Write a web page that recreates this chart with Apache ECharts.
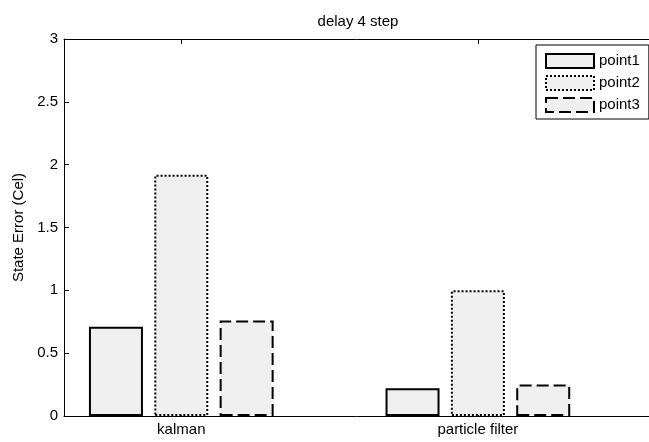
<!DOCTYPE html>
<html><head><meta charset="utf-8">
<script src="https://cdn.jsdelivr.net/npm/echarts@6/dist/echarts.min.js"></script>
<style>html,body{margin:0;padding:0;background:#fff}#c{width:649px;height:442px}</style>
</head><body><div id="c"></div>
<script>
// ---- data ----
const categories = ['kalman', 'particle filter'];
const categoryPositions = [1, 2];
const seriesNames = ['point1', 'point2', 'point3'];
const point1 = [0.71, 0.22];
const point2 = [1.92, 1.0];
const point3 = [0.76, 0.25];
const yTicks = [0, 0.5, 1, 1.5, 2, 2.5, 3];
const titleText = 'delay 4 step';
const yName = 'State Error (Cel)';

const FONT = "'Liberation Sans', Arial, sans-serif";
const FS = 15;
const seriesValues = [point1, point2, point3];
const borderTypes = ['solid', [2, 2], [12, 5]];

const chart = echarts.init(document.getElementById('c'), null, {renderer: 'canvas'});

const xMin = 0.6045, xMax = 2.577;
function xAxisBase(pos, showLabel) {
  return {
    type: 'value', position: pos, min: xMin, max: xMax,
    splitLine: {show: false},
    axisLine: {show: true, onZero: false, lineStyle: {color: '#000', width: 1}},
    axisTick: {show: true, inside: true, length: 5, customValues: categoryPositions, lineStyle: {color: '#000'}},
    axisLabel: {show: showLabel, customValues: categoryPositions, margin: 6,
      color: '#000', fontFamily: FONT, fontSize: FS,
      formatter: v => { const i = categoryPositions.indexOf(v); return i >= 0 ? categories[i] : ''; }}
  };
}

const option = {
  animation: false,
  backgroundColor: '#fff',
  title: {text: titleText, left: 358, top: 14, padding: 0, textAlign: 'center',
    textStyle: {color: '#000', fontFamily: FONT, fontSize: FS, fontWeight: 'normal'}},
  grid: {left: 64, top: 39, bottom: 26, right: 0, outerBoundsMode: 'none'},
  legend: {
    orient: 'vertical', left: 536, top: 45, padding: [8, 9, 6, 9],
    itemWidth: 48, itemHeight: 14, itemGap: 6, icon: 'rect',
    borderColor: '#000', borderWidth: 1, backgroundColor: '#fff',
    textStyle: {color: '#000', fontFamily: FONT, fontSize: FS},
    data: seriesNames.map((n, s) => ({
      name: n,
      itemStyle: {color: '#efefef', borderColor: '#000', borderWidth: 2, borderType: borderTypes[s]}
    }))
  },
  xAxis: [xAxisBase('bottom', true), xAxisBase('top', false)],
  yAxis: {
    type: 'value', position: 'left',
    min: yTicks[0], max: yTicks[yTicks.length - 1], interval: 0.5,
    splitLine: {show: false},
    axisLine: {show: true, onZero: false, lineStyle: {color: '#000', width: 1}},
    axisTick: {show: true, inside: true, length: 5, lineStyle: {color: '#000'}},
    axisLabel: {margin: 6, color: '#000', fontFamily: FONT, fontSize: FS},
    name: yName, nameLocation: 'middle', nameGap: 34, nameRotate: 90,
    nameTextStyle: {color: '#000', fontFamily: FONT, fontSize: FS}
  },
  series: seriesNames.map((name, s) => ({
    name: name, type: 'bar', xAxisIndex: 0, yAxisIndex: 0,
    barWidth: 54, barGap: '21%',
    itemStyle: {color: '#efefef', borderColor: '#000', borderWidth: 2, borderType: borderTypes[s]},
    data: seriesValues[s].map((v, i) => [categoryPositions[i], v])
  }))
};
chart.setOption(option);
</script></body></html>
